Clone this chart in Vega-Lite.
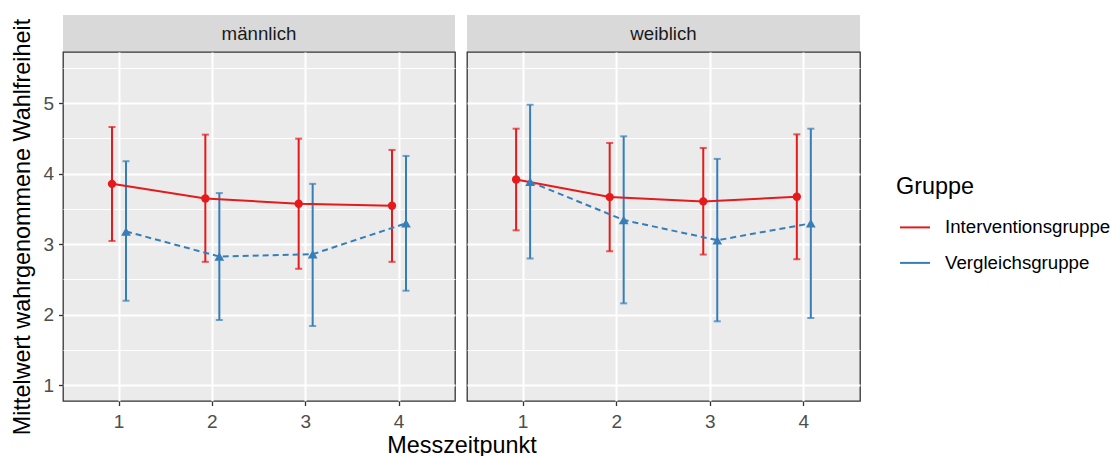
{
  "$schema": "https://vega.github.io/schema/vega-lite/v6.json",
  "padding": {"left": 10, "top": 15, "right": 5, "bottom": 2},
  "datasets": {
    "main": [
      {"Geschlecht": "männlich", "Gruppe": "Interventionsgruppe", "Messzeitpunkt": 1, "Mittelwert": 3.855, "lower": 3.045, "upper": 4.661},
      {"Geschlecht": "männlich", "Gruppe": "Interventionsgruppe", "Messzeitpunkt": 2, "Mittelwert": 3.648, "lower": 2.749, "upper": 4.553},
      {"Geschlecht": "männlich", "Gruppe": "Interventionsgruppe", "Messzeitpunkt": 3, "Mittelwert": 3.573, "lower": 2.65, "upper": 4.496},
      {"Geschlecht": "männlich", "Gruppe": "Interventionsgruppe", "Messzeitpunkt": 4, "Mittelwert": 3.545, "lower": 2.749, "upper": 4.336},
      {"Geschlecht": "männlich", "Gruppe": "Vergleichsgruppe", "Messzeitpunkt": 1, "Mittelwert": 3.18, "lower": 2.197, "upper": 4.176},
      {"Geschlecht": "männlich", "Gruppe": "Vergleichsgruppe", "Messzeitpunkt": 2, "Mittelwert": 2.824, "lower": 1.924, "upper": 3.724},
      {"Geschlecht": "männlich", "Gruppe": "Vergleichsgruppe", "Messzeitpunkt": 3, "Mittelwert": 2.857, "lower": 1.839, "upper": 3.855},
      {"Geschlecht": "männlich", "Gruppe": "Vergleichsgruppe", "Messzeitpunkt": 4, "Mittelwert": 3.295, "lower": 2.339, "upper": 4.251},
      {"Geschlecht": "weiblich", "Gruppe": "Interventionsgruppe", "Messzeitpunkt": 1, "Mittelwert": 3.917, "lower": 3.196, "upper": 4.637},
      {"Geschlecht": "weiblich", "Gruppe": "Interventionsgruppe", "Messzeitpunkt": 2, "Mittelwert": 3.667, "lower": 2.899, "upper": 4.435},
      {"Geschlecht": "weiblich", "Gruppe": "Interventionsgruppe", "Messzeitpunkt": 3, "Mittelwert": 3.606, "lower": 2.852, "upper": 4.364},
      {"Geschlecht": "weiblich", "Gruppe": "Interventionsgruppe", "Messzeitpunkt": 4, "Mittelwert": 3.672, "lower": 2.786, "upper": 4.557},
      {"Geschlecht": "weiblich", "Gruppe": "Vergleichsgruppe", "Messzeitpunkt": 1, "Mittelwert": 3.884, "lower": 2.796, "upper": 4.976},
      {"Geschlecht": "weiblich", "Gruppe": "Vergleichsgruppe", "Messzeitpunkt": 2, "Mittelwert": 3.342, "lower": 2.16, "upper": 4.529},
      {"Geschlecht": "weiblich", "Gruppe": "Vergleichsgruppe", "Messzeitpunkt": 3, "Mittelwert": 3.055, "lower": 1.905, "upper": 4.209},
      {"Geschlecht": "weiblich", "Gruppe": "Vergleichsgruppe", "Messzeitpunkt": 4, "Mittelwert": 3.295, "lower": 1.952, "upper": 4.637}
    ],
    "strips": [
      {"Geschlecht": "männlich"},
      {"Geschlecht": "weiblich"}
    ]
  },
  "bounds": "flush",
  "columns": 2,
  "spacing": {"row": 0, "column": 12},
  "concat": [
    {
      "width": 392, "height": 37,
      "data": {"name": "strips"},
      "transform": [{"filter": "datum.Geschlecht === 'männlich'"}],
      "view": {"fill": "#D9D9D9", "stroke": null},
      "mark": {"type": "text", "fontSize": 18.7, "color": "#1A1A1A", "baseline": "middle", "align": "center"},
      "encoding": {"text": {"field": "Geschlecht", "type": "nominal"}}
    },
    {
      "width": 393, "height": 37,
      "data": {"name": "strips"},
      "transform": [{"filter": "datum.Geschlecht === 'weiblich'"}],
      "view": {"fill": "#D9D9D9", "stroke": null},
      "mark": {"type": "text", "fontSize": 18.7, "color": "#1A1A1A", "baseline": "middle", "align": "center"},
      "encoding": {"text": {"field": "Geschlecht", "type": "nominal"}}
    },
    {
      "width": 392, "height": 349,
      "data": {"name": "main"},
      "transform": [{"filter": "datum.Geschlecht === 'männlich'"}],
      "view": {"fill": "#EBEBEB", "stroke": "#333333", "strokeWidth": 1.3},
      "encoding": {
        "x": {"field": "Messzeitpunkt", "type": "ordinal", "scale": {"paddingInner": 0.7, "paddingOuter": 0.45},
          "axis": {"labelAngle": 0, "bandPosition": 0.5, "grid": true, "gridColor": "#FFFFFF", "gridWidth": 2, "domain": false,
            "ticks": true, "tickSize": 4.5, "tickWidth": 1.3, "tickColor": "#333333", "labelFontSize": 19, "labelColor": "#4D4D4D", "labelPadding": 7,
            "title": "Messzeitpunkt", "titleX": 398.5, "titleAlign": "center", "titleFontSize": 23.4, "titleFontWeight": "normal", "titleColor": "#000000", "titlePadding": 3}},
        "xOffset": {"field": "Gruppe", "type": "nominal", "scale": {"paddingInner": 0, "paddingOuter": 0}},
        "color": {"field": "Gruppe", "type": "nominal", "scale": {"domain": ["Interventionsgruppe", "Vergleichsgruppe"], "range": ["#E41A1C", "#377EB8"]},
          "legend": {"orient": "none", "legendX": 833, "legendY": 161, "title": "Gruppe", "symbolType": "stroke", "symbolSize": 900, "symbolStrokeWidth": 2, "symbolOpacity": 1,
            "titleFontSize": 23.4, "titleFontWeight": "normal", "titleColor": "#000000", "labelFontSize": 18.7, "labelColor": "#000000", "labelLimit": 400,
            "labelOffset": 14, "rowPadding": 9.5, "titlePadding": 12, "padding": 0, "symbolOffset": 3}}
      },
      "layer": [
        {
          "mark": {"type": "rule", "strokeWidth": 2},
          "encoding": {
            "y": {"field": "lower", "type": "quantitative", "scale": {"domain": [0.775, 5.725], "nice": false, "zero": false},
              "axis": {"orient": "right", "values": [1.5, 2.5, 3.5, 4.5, 5.5], "grid": true, "gridColor": "#FFFFFF", "gridWidth": 1, "labels": false, "ticks": false, "domain": false, "title": null, "minExtent": 0, "maxExtent": 0}},
            "y2": {"field": "upper"}
          }
        },
        {
          "mark": {"type": "tick", "orient": "horizontal", "size": 7, "thickness": 2},
          "encoding": {"y": {"field": "lower", "type": "quantitative", "axis": null}}
        },
        {
          "mark": {"type": "tick", "orient": "horizontal", "size": 7, "thickness": 2},
          "encoding": {"y": {"field": "upper", "type": "quantitative", "axis": null}}
        },
        {
          "transform": [{"filter": "datum.Gruppe === 'Interventionsgruppe'"}],
          "mark": {"type": "line", "strokeWidth": 2},
          "encoding": {
            "y": {"field": "Mittelwert", "type": "quantitative",
              "axis": {"values": [1, 2, 3, 4, 5], "grid": true, "gridColor": "#FFFFFF", "gridWidth": 2, "domain": false,
                "tickSize": 4.5, "tickWidth": 1.3, "tickColor": "#333333", "labelFontSize": 19, "labelColor": "#4D4D4D", "labelPadding": 5,
                "title": "Mittelwert wahrgenommene Wahlfreiheit", "titleFontSize": 23.4, "titleFontWeight": "normal", "titleColor": "#000000", "titlePadding": 8}}
          }
        },
        {
          "transform": [{"filter": "datum.Gruppe === 'Vergleichsgruppe'"}],
          "mark": {"type": "line", "strokeWidth": 2, "strokeDash": [6, 4]},
          "encoding": {"y": {"field": "Mittelwert", "type": "quantitative", "axis": null}}
        },
        {
          "transform": [{"filter": "datum.Gruppe === 'Interventionsgruppe'"}],
          "mark": {"type": "point", "filled": true, "shape": "circle", "size": 70, "opacity": 1},
          "encoding": {"y": {"field": "Mittelwert", "type": "quantitative", "axis": null}}
        },
        {
          "transform": [{"filter": "datum.Gruppe === 'Vergleichsgruppe'"}],
          "mark": {"type": "point", "filled": true, "shape": "triangle-up", "size": 95, "opacity": 1},
          "encoding": {"y": {"field": "Mittelwert", "type": "quantitative", "axis": null}}
        }
      ],
      "resolve": {"axis": {"y": "independent"}}
    },
    {
      "width": 393, "height": 349,
      "data": {"name": "main"},
      "transform": [{"filter": "datum.Geschlecht === 'weiblich'"}],
      "view": {"fill": "#EBEBEB", "stroke": "#333333", "strokeWidth": 1.3},
      "encoding": {
        "x": {"field": "Messzeitpunkt", "type": "ordinal", "scale": {"paddingInner": 0.7, "paddingOuter": 0.45},
          "axis": {"labelAngle": 0, "bandPosition": 0.5, "grid": true, "gridColor": "#FFFFFF", "gridWidth": 2, "domain": false,
            "ticks": true, "tickSize": 4.5, "tickWidth": 1.3, "tickColor": "#333333", "labelFontSize": 19, "labelColor": "#4D4D4D", "labelPadding": 7,
            "title": null}},
        "xOffset": {"field": "Gruppe", "type": "nominal", "scale": {"paddingInner": 0, "paddingOuter": 0}},
        "color": {"field": "Gruppe", "type": "nominal", "scale": {"domain": ["Interventionsgruppe", "Vergleichsgruppe"], "range": ["#E41A1C", "#377EB8"]},
          "legend": {"orient": "none", "legendX": 833, "legendY": 161, "title": "Gruppe", "symbolType": "stroke", "symbolSize": 900, "symbolStrokeWidth": 2, "symbolOpacity": 1,
            "titleFontSize": 23.4, "titleFontWeight": "normal", "titleColor": "#000000", "labelFontSize": 18.7, "labelColor": "#000000", "labelLimit": 400,
            "labelOffset": 14, "rowPadding": 9.5, "titlePadding": 12, "padding": 0, "symbolOffset": 3}}
      },
      "layer": [
        {
          "mark": {"type": "rule", "strokeWidth": 2},
          "encoding": {
            "y": {"field": "lower", "type": "quantitative", "scale": {"domain": [0.775, 5.725], "nice": false, "zero": false},
              "axis": {"orient": "right", "values": [1.5, 2.5, 3.5, 4.5, 5.5], "grid": true, "gridColor": "#FFFFFF", "gridWidth": 1, "labels": false, "ticks": false, "domain": false, "title": null, "minExtent": 0, "maxExtent": 0}},
            "y2": {"field": "upper"}
          }
        },
        {
          "mark": {"type": "tick", "orient": "horizontal", "size": 7, "thickness": 2},
          "encoding": {"y": {"field": "lower", "type": "quantitative", "axis": null}}
        },
        {
          "mark": {"type": "tick", "orient": "horizontal", "size": 7, "thickness": 2},
          "encoding": {"y": {"field": "upper", "type": "quantitative", "axis": null}}
        },
        {
          "transform": [{"filter": "datum.Gruppe === 'Interventionsgruppe'"}],
          "mark": {"type": "line", "strokeWidth": 2},
          "encoding": {
            "y": {"field": "Mittelwert", "type": "quantitative",
              "axis": {"values": [1, 2, 3, 4, 5], "grid": true, "gridColor": "#FFFFFF", "gridWidth": 2, "domain": false,
                "labels": false, "ticks": false, "title": null, "minExtent": 0, "maxExtent": 0}}
          }
        },
        {
          "transform": [{"filter": "datum.Gruppe === 'Vergleichsgruppe'"}],
          "mark": {"type": "line", "strokeWidth": 2, "strokeDash": [6, 4]},
          "encoding": {"y": {"field": "Mittelwert", "type": "quantitative", "axis": null}}
        },
        {
          "transform": [{"filter": "datum.Gruppe === 'Interventionsgruppe'"}],
          "mark": {"type": "point", "filled": true, "shape": "circle", "size": 70, "opacity": 1},
          "encoding": {"y": {"field": "Mittelwert", "type": "quantitative", "axis": null}}
        },
        {
          "transform": [{"filter": "datum.Gruppe === 'Vergleichsgruppe'"}],
          "mark": {"type": "point", "filled": true, "shape": "triangle-up", "size": 95, "opacity": 1},
          "encoding": {"y": {"field": "Mittelwert", "type": "quantitative", "axis": null}}
        }
      ],
      "resolve": {"axis": {"y": "independent"}}
    }
  ],
  "resolve": {"scale": {"color": "shared"}},
  "config": {
    "font": "Liberation Sans",
    "background": "#FFFFFF"
  }
}
